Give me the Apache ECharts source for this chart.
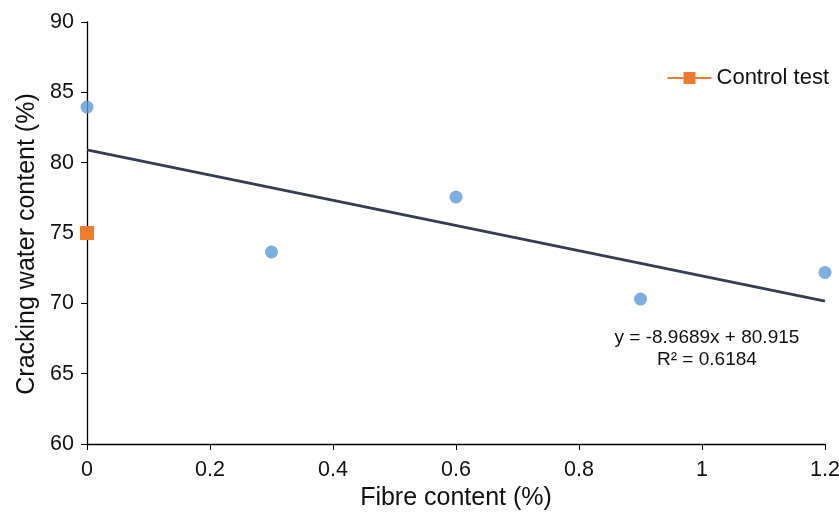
<!DOCTYPE html>
<html><head><meta charset="utf-8">
<script src="https://cdn.jsdelivr.net/npm/echarts@6/dist/echarts.min.js"></script>
<style>html,body{margin:0;padding:0;background:#fff}#c{width:839px;height:516px}</style>
</head><body><div id="c"></div>
<script>
const fibreContent = [0, 0.3, 0.6, 0.9, 1.2];
const crackingWater = [83.95, 73.65, 77.56, 70.3, 72.2];
const controlX = [0];
const controlY = [75.0];
const trendX = [0, 1.2];
const trendY = [80.915, 70.152];
const xTicks = [0, 0.2, 0.4, 0.6, 0.8, 1, 1.2];
const yTicks = [60, 65, 70, 75, 80, 85, 90];
const equationText = 'y = -8.9689x + 80.915';
const r2Text = 'R² = 0.6184';

const chart = echarts.init(document.getElementById('c'), null, {renderer: 'canvas'});
const font = '"Liberation Sans", Arial, sans-serif';
chart.setOption({
  animation: false,
  textStyle: {fontFamily: font},
  grid: {left: 87, right: 14, top: 22, bottom: 72, containLabel: false, outerBoundsMode: 'none'},
  legend: {
    data: ['Control test'], right: 5, top: 62,
    itemWidth: 44, itemHeight: 15, itemGap: 4,
    textStyle: {fontSize: 22, color: '#111', fontFamily: font}
  },
  xAxis: {
    type: 'value', min: 0, max: 1.2, interval: 0.2,
    name: 'Fibre content (%)', nameLocation: 'middle', nameGap: 41,
    nameTextStyle: {fontSize: 25, color: '#111', fontFamily: font},
    axisLine: {lineStyle: {color: '#000', width: 1.3}},
    axisTick: {show: true, length: 6, lineStyle: {color: '#000'}},
    axisLabel: {fontSize: 21.5, color: '#111', margin: 15, fontFamily: font,
      formatter: v => String(parseFloat(v.toFixed(1)))},
    splitLine: {show: false}
  },
  yAxis: {
    type: 'value', min: 60, max: 90, interval: 5,
    name: 'Cracking water content (%)', nameLocation: 'middle', nameGap: 46,
    nameTextStyle: {fontSize: 25, color: '#111', fontFamily: font, padding: [0, 22, 0, 0]},
    axisLine: {show: true, lineStyle: {color: '#000', width: 1.3}},
    axisTick: {show: true, length: 6, lineStyle: {color: '#000'}},
    axisLabel: {fontSize: 21.5, color: '#111', margin: 13, fontFamily: font},
    splitLine: {show: false}
  },
  series: [
    {
      name: 'Trend', type: 'line', data: trendX.map((x, i) => [x, trendY[i]]),
      symbol: 'none', lineStyle: {color: '#333f50', width: 2.8}, z: 1,
      markPoint: {
        symbol: 'circle', symbolSize: 1,
        itemStyle: {color: 'rgba(0,0,0,0)'},
        label: {show: true, position: 'inside', fontSize: 19, color: '#111', lineHeight: 22,
          fontFamily: font, align: 'center',
          formatter: equationText + '\n' + r2Text},
        data: [{coord: [1.008, 66.8]}]
      }
    },
    {
      name: 'Data', type: 'scatter', data: fibreContent.map((x, i) => [x, crackingWater[i]]),
      symbol: 'circle', symbolSize: 13, itemStyle: {color: '#5b9bd5'}, z: 3
    },
    {
      name: 'Control test', type: 'line', data: controlX.map((x, i) => [x, controlY[i]]),
      symbol: 'rect', symbolSize: 14, itemStyle: {color: '#ed7d31'},
      lineStyle: {color: '#ed7d31', width: 2.5}, z: 4
    }
  ]
});
</script></body></html>
